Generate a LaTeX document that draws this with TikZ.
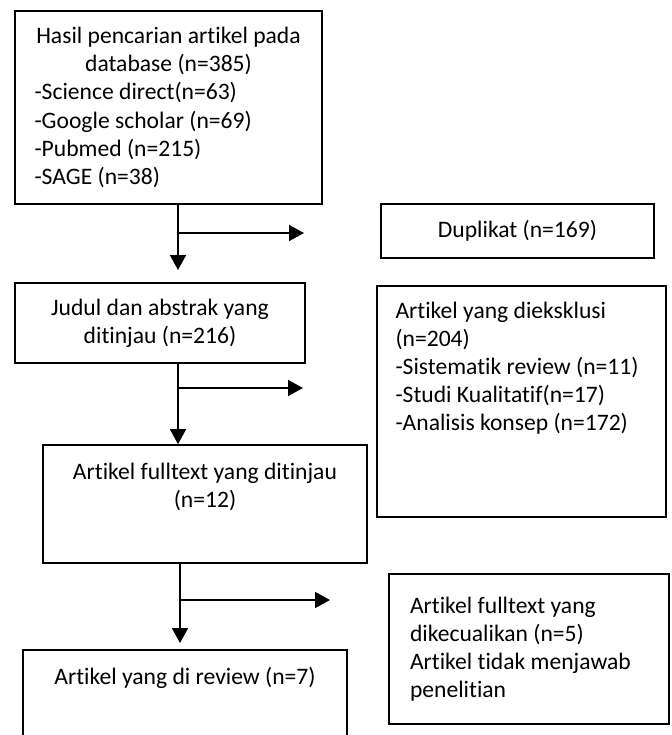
\documentclass[tikz,border=0pt]{standalone}
\usepackage{fontspec}
\setmainfont[Ligatures=NoCommon]{Carlito}
\usetikzlibrary{positioning, arrows.meta, calc}

\begin{document}
\begin{tikzpicture}[x=0.5pt, y=-0.5pt,
    box/.style={draw, line width=0.85pt, inner sep=0pt, font=\fontsize{11.8}{14.1}\selectfont},
    arr/.style={line width=0.85pt, -{Triangle[length=7.5pt, width=8pt]}}]
  \clip (0,0) rectangle (671,735);

  % Boxes
  \node[box, minimum width=153.5pt, minimum height=96.5pt, text width=134pt, align=flush left] (search) at (168.5,107.5)
    {\makebox[\linewidth]{Hasil pencarian artikel pada}\\ \makebox[\linewidth]{database (n=385)}\\
     -Science direct(n=63)\\ -Google scholar (n=69)\\ -Pubmed (n=215)\\ -SAGE (n=38)};
  \node[box, minimum width=136.5pt, minimum height=27pt] (dup) at (517.5,231) {Duplikat (n=169)};
  \node[box, minimum width=145pt, minimum height=40pt, align=center] (judul) at (160,323)
    {Judul dan abstrak yang\\ ditinjau (n=216)};
  \node[box, minimum width=144.5pt] (excl) at (521.5,401.5)
    {\parbox[c][115.5pt][t]{126pt}{\raggedright\vspace*{7.9pt}Artikel yang dieksklusi\\ (n=204)\\
     -Sistematik review (n=11)\\ -Studi Kualitatif(n=17)\\ -Analisis konsep (n=172)}};
  \node[box, minimum width=162pt] (full) at (205,504)
    {\parbox[c][59pt][t]{150pt}{\centering\vspace*{9pt}Artikel fulltext yang ditinjau\\ (n=12)}};
  \node[box, minimum width=140pt, minimum height=75pt, text width=119pt, align=flush left] (excl2) at (529,649)
    {Artikel fulltext yang\\ dikecualikan (n=5)\\ Artikel tidak menjawab\\ penelitian};
  \node[box, minimum width=162pt] (review) at (185,710)
    {\parbox[c][60pt][t]{150pt}{\centering\vspace*{8.5pt}Artikel yang di review (n=7)}};

  % Arrows
  \coordinate (d1) at (178,270);
  \coordinate (s1) at (304,233);
  \coordinate (s2) at (303,388);
  \coordinate (d3) at (180,643);
  \coordinate (s3) at (330,600);
  \draw[arr] (search.south -| d1) -- (d1);
  \draw[arr] (s1 -| d1) -- (s1);
  \draw[arr] (judul.south -| d1) -- (full.north -| d1);
  \draw[arr] (s2 -| d1) -- (s2);
  \draw[arr] (full.south -| d3) -- (d3);
  \draw[arr] (s3 -| d3) -- (s3);
\end{tikzpicture}
\end{document}
